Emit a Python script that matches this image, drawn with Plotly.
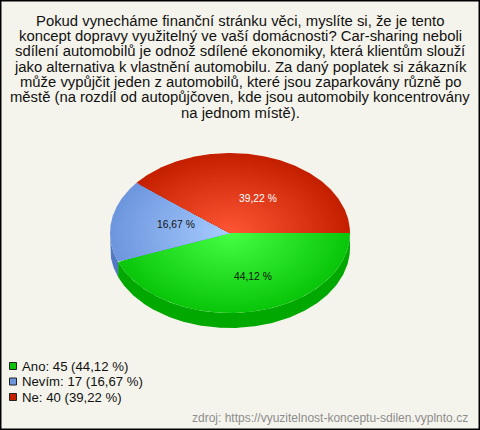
import numpy as np
import plotly.graph_objects as go

categories = ["Ano", "Nevím", "Ne"]
counts = [45, 17, 40]
percents = [44.12, 16.67, 39.22]
percent_labels = ["44,12 %", "16,67 %", "39,22 %"]
title_lines = [
    "Pokud vynecháme finanční stránku věci, myslíte si, že je tento",
    "koncept dopravy využitelný ve vaší domácnosti? Car-sharing neboli",
    "sdílení automobilů je odnož sdílené ekonomiky, která klientům slouží",
    "jako alternativa k vlastnění automobilu. Za daný poplatek si zákazník",
    "může vypůjčit jeden z automobilů, které jsou zaparkovány různě po",
    "městě (na rozdíl od autopůjčoven, kde jsou automobily koncentrovány",
    "na jednom místě).",
]
source_text = "zdroj: https://vyuzitelnost-konceptu-sdilen.vyplnto.cz"

# style
W, H = 480, 430
CX, CY, RX, RY, DEPTH = 230, 233, 120, 80, 15
BG = "#f5f4ec"
FONT = "Liberation Sans, Arial, sans-serif"
inner = [(70, 255, 70), (168, 205, 255), (255, 88, 55)]
outer = [(10, 198, 10), (110, 150, 222), (196, 32, 0)]
side = ["#00a800", "#5278c4", "#9a1800"]
legend_col = ["#0cc40c", "#6f96dd", "#c42000"]
label_col = ["#111111", "#111111", "#ffffff"]
label_shift = [(12, -4), (5, 2), (8.5, -3)]
label_r = 0.5
RINGS = 40

# unit-circle axes: 1 unit = RX px horizontally, RY px vertically
xr = [-CX / RX, (W - CX) / RX]
yr = [-(H - CY) / RY, CY / RY]
total = sum(counts)
edges = np.concatenate([[0], np.cumsum(counts)]) / total * 2 * np.pi  # clockwise from 3 o'clock
fig = go.Figure()


def ux(t):
    return np.cos(t)


def uy(t):
    return -np.sin(t)


# extruded rim (only the front half is visible)
d = DEPTH / RY
for i in range(3):
    a, b = edges[i], min(edges[i + 1], np.pi)
    if a >= b:
        continue
    t = np.linspace(a, b, 200)
    xs = np.concatenate([ux(t), ux(t[::-1])])
    ys = np.concatenate([uy(t), uy(t[::-1]) - d])
    fig.add_trace(go.Scatter(x=xs, y=ys, mode="lines", fill="toself", fillcolor=side[i],
                             line=dict(width=0), hoverinfo="skip", showlegend=False))

# top face: concentric wedges give a radial gradient
for i in range(3):
    t = np.linspace(edges[i], edges[i + 1], 200)
    for k in range(RINGS):
        f = 1 - k / RINGS
        c = [round(o + (n - o) * (1 - f)) for o, n in zip(outer[i], inner[i])]
        fig.add_trace(go.Scatter(
            x=np.concatenate([[0], f * ux(t), [0]]),
            y=np.concatenate([[0], f * uy(t), [0]]),
            mode="lines", fill="toself", fillcolor=f"rgb({c[0]},{c[1]},{c[2]})",
            line=dict(width=0), hoverinfo="skip", showlegend=False))

ann = []
# slice labels
for i in range(3):
    m = (edges[i] + edges[i + 1]) / 2
    ann.append(dict(x=label_r * ux(m), y=label_r * uy(m), xref="x", yref="y", text=percent_labels[i],
                    showarrow=False, xshift=label_shift[i][0], yshift=label_shift[i][1],
                    font=dict(family=FONT, size=10.3, color=label_col[i])))
# title lines
for j, line in enumerate(title_lines):
    ann.append(dict(x=240 / W, y=1 - (20.5 + j * 15.35) / H, xref="paper", yref="paper", text=line,
                    showarrow=False, xanchor="center", yanchor="middle",
                    font=dict(family=FONT, size=14.85, color="#111111")))
# legend rows
shapes = [dict(type="rect", xref="paper", yref="paper", x0=0.001, x1=0.999, y0=0.0012, y1=0.9988,
               line=dict(color="#000000", width=2), fillcolor="rgba(0,0,0,0)")]
for j, cat in enumerate(categories):
    y = 366 + j * 15.5
    shapes.append(dict(type="rect", xref="paper", yref="paper", x0=9.5 / W, x1=16.5 / W,
                       y0=1 - (y + 3.5) / H, y1=1 - (y - 3.5) / H,
                       line=dict(color="#222222", width=1), fillcolor=legend_col[j]))
    ann.append(dict(x=19.5 / W, y=1 - y / H, xref="paper", yref="paper",
                    text=f"{cat}: {counts[j]} ({str(percents[j]).replace('.', ',')} %)",
                    showarrow=False, xanchor="left", yanchor="middle",
                    font=dict(family=FONT, size=13.2, color="#111111")))
ann.append(dict(x=470 / W, y=1 - 418 / H, xref="paper", yref="paper", text=source_text, showarrow=False,
                xanchor="right", yanchor="middle", font=dict(family=FONT, size=12, color="#8c8c8c")))

fig.update_layout(
    width=W, height=H, margin=dict(l=0, r=0, t=0, b=0), autosize=False,
    paper_bgcolor=BG, plot_bgcolor=BG, showlegend=False,
    xaxis=dict(range=xr, visible=False, fixedrange=True),
    yaxis=dict(range=yr, visible=False, fixedrange=True),
    annotations=ann, shapes=shapes,
)
fig.write_html("out.html", config={"displayModeBar": False},
               post_script="document.body.style.margin='0';document.body.style.overflow='hidden';")
